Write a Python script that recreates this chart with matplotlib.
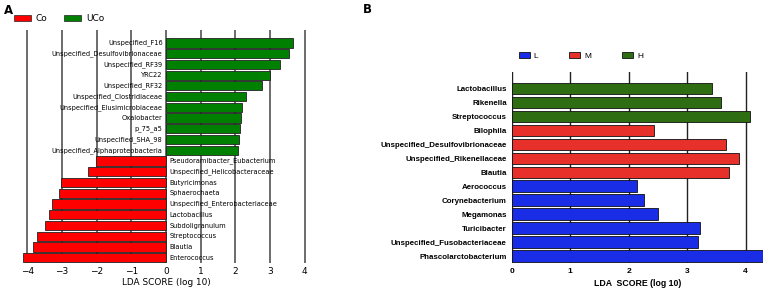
import matplotlib.pyplot as plt
from matplotlib.patches import Patch

# panel A: LEfSe Co vs UCo
a_taxa = ["Unspecified_F16", "Unspecified_Desulfovibrionaceae", "Unspecified_RF39", "YRC22",
          "Unspecified_RF32", "Unspecified_Clostridiaceae", "Unspecified_Elusimicrobiaceae",
          "Oxalobacter", "p_75_a5", "Unspecified_SHA_98", "Unspecified_Alphaproteobacteria",
          "Pseudoramibacter_Eubacterium", "Unspecified_Helicobacteraceae", "Butyricimonas",
          "Sphaerochaeta", "Unspecified_Enterobacteriaceae", "Lactobacillus", "Subdoligranulum",
          "Streptococcus", "Blautia", "Enterococcus"]
a_scores = [3.67, 3.55, 3.28, 3.0, 2.76, 2.3, 2.2, 2.17, 2.13, 2.1, 2.07,
            -2.01, -2.24, -3.03, -3.08, -3.3, -3.37, -3.5, -3.72, -3.83, -4.12]
a_groups = ["UCo"] * 11 + ["Co"] * 10
a_ticks = [-4, -3, -2, -1, 0, 1, 2, 3, 4]

# panel B: LEfSe L / M / H
b_taxa = ["Lactobacillus", "Rikenella", "Streptococcus", "Bilophila",
          "Unspecified_Desulfovibrionaceae", "Unspecified_Rikenellaceae", "Blautia",
          "Aerococcus", "Corynebacterium", "Megamonas", "Turicibacter",
          "Unspecified_Fusobacteriaceae", "Phascolarctobacterium"]
b_scores = [3.43, 3.58, 4.07, 2.44, 3.67, 3.89, 3.71, 2.15, 2.27, 2.5, 3.22, 3.18, 4.33]
b_groups = ["H", "H", "H", "M", "M", "M", "M", "L", "L", "L", "L", "L", "L"]
b_ticks = [0, 1, 2, 3, 4]

a_colors = {"Co": "#ff0000", "UCo": "#008000"}
b_colors = {"L": "#1a2de6", "M": "#e8302a", "H": "#2f6d12"}

fig = plt.figure(figsize=(7.67, 2.97), dpi=100)

# ---- A ----
axa = fig.add_axes([0.022, 0.114, 0.389, 0.785])
ya = list(range(len(a_taxa)))
axa.barh(ya, a_scores, height=0.86, color=[a_colors[g] for g in a_groups],
         edgecolor="#222222", linewidth=0.6, zorder=2)
for t in a_ticks:
    axa.axvline(t, color="#444444", lw=1.1, zorder=1)
for y, name, s in zip(ya, a_taxa, a_scores):
    if s > 0:
        axa.text(-0.1, y, name, ha="right", va="center", fontsize=4.8, zorder=3)
    else:
        axa.text(0.1, y, name, ha="left", va="center", fontsize=4.8, zorder=3)
axa.set_xlim(-4.3, 4.3)
axa.set_ylim(len(a_taxa) - 0.5, -1.2)
axa.set_yticks([])
axa.set_xticks(a_ticks)
axa.tick_params(axis="x", length=0, labelsize=6.5, pad=3)
axa.set_xlabel("LDA SCORE (log 10)", fontsize=6.4, labelpad=1)
for sp in axa.spines.values():
    sp.set_visible(False)

fig.legend(handles=[Patch(facecolor=a_colors[g], edgecolor="#222222", lw=0.5, label=g) for g in ["Co", "UCo"]],
           loc="upper left", bbox_to_anchor=(0.013, 0.965), ncol=2, frameon=False,
           fontsize=6.5, handlelength=1.9, handleheight=0.55, columnspacing=1.8, handletextpad=0.55,
           borderaxespad=0)
fig.text(0.005, 0.987, "A", fontsize=8.5, fontweight="bold", va="top", ha="left")

# ---- B ----
axb = fig.add_axes([0.667, 0.114, 0.328, 0.644])
yb = list(range(len(b_taxa)))
axb.barh(yb, b_scores, height=0.84, color=[b_colors[g] for g in b_groups],
         edgecolor="#111111", linewidth=0.6, zorder=2)
for t in b_ticks:
    axb.axvline(t, color="#222222", lw=1.0, zorder=1)
axb.set_xlim(0, 4.3)
axb.set_ylim(len(b_taxa) - 0.5, -1.2)
axb.set_yticks(yb)
axb.set_yticklabels(b_taxa, fontsize=5.7, fontweight="bold", family="Liberation Sans")
axb.set_xticks(b_ticks)
axb.set_xticklabels([str(t) for t in b_ticks], fontsize=6, fontweight="bold", family="Liberation Sans")
axb.tick_params(axis="both", length=0, pad=3.5)
axb.set_xlabel("LDA  SCORE (log 10)", fontsize=6.3, fontweight="bold", family="Liberation Sans", labelpad=3)
for sp in axb.spines.values():
    sp.set_visible(False)

fig.legend(handles=[Patch(facecolor=b_colors[g], edgecolor="#111111", lw=0.6, label=g) for g in ["L", "M", "H"]],
           loc="upper left", bbox_to_anchor=(0.672, 0.835), ncol=3, frameon=False,
           prop={"family": "Liberation Sans", "size": 6}, handlelength=1.3, handleheight=0.6,
           columnspacing=3.7, handletextpad=0.5, borderaxespad=0)
fig.text(0.473, 0.99, "B", fontsize=8.5, fontweight="bold", va="top", ha="left")

fig.savefig("out.png", dpi=100)
